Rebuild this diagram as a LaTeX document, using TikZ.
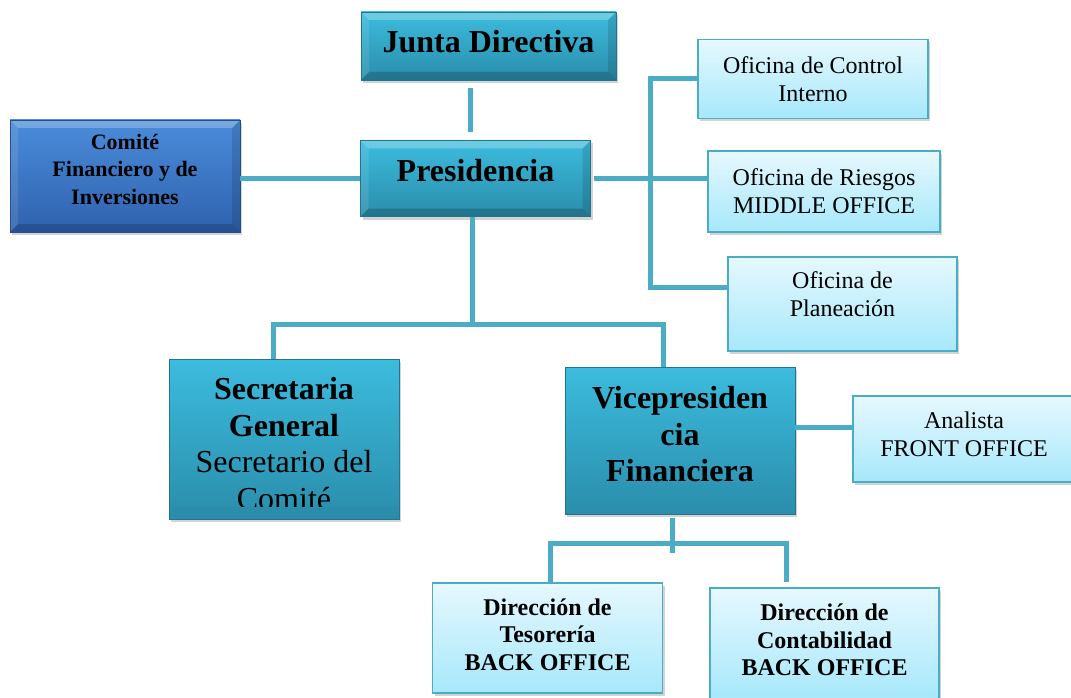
\documentclass[tikz,border=0pt]{standalone}
\usepackage{fontspec}
\setmainfont{Liberation Serif}
\usetikzlibrary{calc,shadows}

\definecolor{accentfive}{HTML}{4BACC6}
\definecolor{darktop}{HTML}{3CBCDE}
\definecolor{darkbottom}{HTML}{2A8DAB}
\definecolor{darkedge}{HTML}{23758F}
\definecolor{bluetop}{HTML}{4A8CDA}
\definecolor{bluebottom}{HTML}{2F62AE}
\definecolor{lighttop}{HTML}{E6F8FE}
\definecolor{lightbottom}{HTML}{A6E8FB}

\begin{document}
\begin{tikzpicture}[x=1pt,y=-1pt,
        link/.style={draw=accentfive, line width=5pt},
        boxshadow/.style={drop shadow={opacity=0.35, shadow xshift=2pt, shadow yshift=-3pt}},
        bevel/.style={path picture={
          \coordinate (bnw) at (path picture bounding box.north west);
          \coordinate (bne) at (path picture bounding box.north east);
          \coordinate (bsw) at (path picture bounding box.south west);
          \coordinate (bse) at (path picture bounding box.south east);
          \fill[white, opacity=0.25] (bnw) -- (bne) -- ($(bne)+(-8,8)$) -- ($(bnw)+(8,8)$) -- cycle;
          \fill[white, opacity=0.10] (bnw) -- (bsw) -- ($(bsw)+(8,-8)$) -- ($(bnw)+(8,8)$) -- cycle;
          \fill[black, opacity=0.12] (bne) -- (bse) -- ($(bse)+(-8,-8)$) -- ($(bne)+(-8,8)$) -- cycle;
          \fill[black, opacity=0.18] (bsw) -- (bse) -- ($(bse)+(-8,-8)$) -- ($(bsw)+(8,-8)$) -- cycle;}},
        darkbox/.style={draw=darkedge, line width=0.6pt, top color=darktop, bottom color=darkbottom, boxshadow,
          align=center, inner sep=0pt, font=\fontsize{32}{36}\selectfont},
        bluebox/.style={darkbox, draw=bluebottom!80!black, top color=bluetop, bottom color=bluebottom,
          font=\fontsize{22}{27.5}\selectfont\bfseries},
        lightbox/.style={draw=accentfive, line width=1.5pt, top color=lighttop, bottom color=lightbottom, boxshadow,
          align=center, inner sep=0pt, font=\fontsize{24}{28}\selectfont}]
        \newcommand{\orgboxwidth}{230}
        \useasboundingbox (0,0) rectangle (1071,698);
        % top of the chart
        \node[darkbox, bevel, minimum width=255, minimum height=68, text depth=10pt, font=\fontsize{32}{36}\selectfont\bfseries] (junta) at (488.5,46) {Junta Directiva};
        \node[darkbox, bevel, minimum width=\orgboxwidth, minimum height=76, text depth=16pt, font=\fontsize{32}{36}\selectfont\bfseries] (pres) at (475.5,178.5) {Presidencia};
        \node[bluebox, bevel, minimum width=\orgboxwidth, minimum height=112, text depth=14pt] (comite) at (125,176) {Comité\\Financiero y de\\Inversiones};
        % offices on the right
        \node[lightbox, minimum width=\orgboxwidth, minimum height=79] (control) at (813,79) {Oficina de Control\\Interno};
        \node[lightbox, minimum width=232, minimum height=81] (riesgos) at (824,191.5) {Oficina de Riesgos\\MIDDLE OFFICE};
        \node[lightbox, minimum width=229, minimum height=94, text depth=19pt] (planea) at (842.5,304) {Oficina de\\Planeación};
        % second level
        \node[darkbox, minimum width=\orgboxwidth, minimum height=160, text height=141pt, font=\fontsize{32}{36.5}\selectfont] (secgen) at (284,439) {\textbf{Secretaria}\\\textbf{General}\\Secretario del\\Comité};
        \fill[darkbottom] ([xshift=1pt,yshift=1pt]secgen.south west) rectangle ([xshift=-1pt,yshift=12pt]secgen.south east);
        \node[darkbox, minimum width=\orgboxwidth, minimum height=147, text depth=13pt, font=\fontsize{32}{36.5}\selectfont\bfseries] (vice) at (680,440.5) {Vicepresiden\\cia\\Financiera};
        \node[lightbox, minimum width=222, minimum height=86, text depth=9pt] (analista) at (964,439) {Analista\\FRONT OFFICE};
        % back office
        \node[lightbox, minimum width=\orgboxwidth, minimum height=110, text depth=7pt, font=\fontsize{24}{27.5}\selectfont\bfseries] (tesor) at (547.5,638) {Dirección de\\Tesorería\\BACK OFFICE};
        \node[lightbox, minimum width=229, minimum height=112, text depth=8pt, font=\fontsize{24}{27.5}\selectfont\bfseries] (contab) at (824.5,644) {Dirección de\\Contabilidad\\BACK OFFICE};
        % connectors
        \coordinate (busx) at (650,0);
        \coordinate (tee1) at (472,324);
        \coordinate (tee2) at (672.5,543);
        \draw[link] ([xshift=-18.5pt,yshift=-8pt]junta.south) -- ([xshift=-5.5pt,yshift=8pt]pres.north);
        \draw[link] ([yshift=-2pt]comite.east) -- ([yshift=-2pt]comite.east -| pres.west);
        \draw[link] ([xshift=3pt]pres.east) -- (pres.east -| riesgos.west);
        \draw[link] (control.west) -- (control.west -| busx) |- ([yshift=17pt]planea.west);
        \draw[link] ([xshift=-3.5pt]pres.south) -- (tee1);
        \draw[link] ([xshift=-11pt]secgen.north) |- (tee1) -| ([xshift=-17pt]vice.north);
        \draw[link] ([yshift=13.5pt]vice.east) -- ([yshift=13.5pt]vice.east -| analista.west);
        \draw[link] ([xshift=-7.5pt,yshift=-4pt]vice.south) -- ([yshift=-10pt]tee2);
        \draw[link] ([xshift=2.5pt]tesor.north) |- (tee2) -| ([xshift=-38.5pt,yshift=5pt]contab.north);
\end{tikzpicture}
\end{document}
